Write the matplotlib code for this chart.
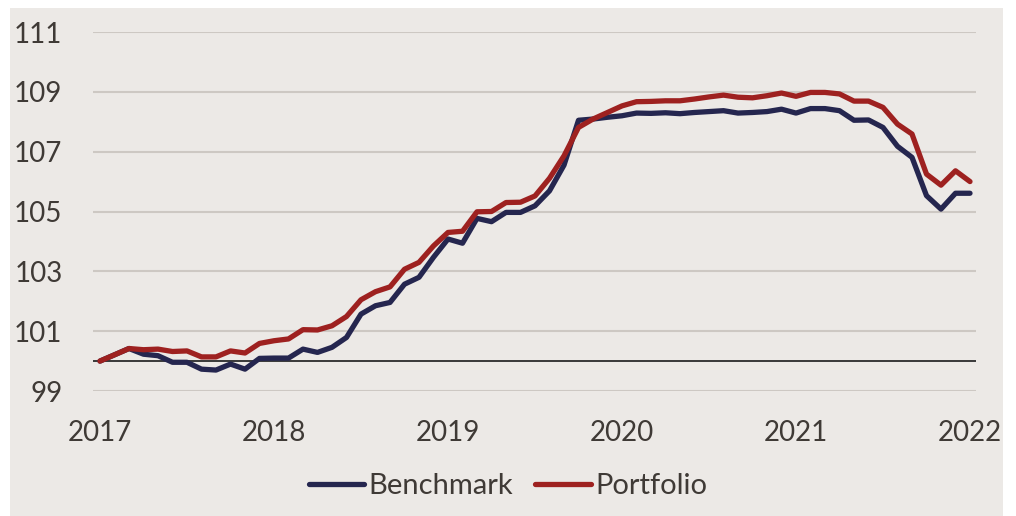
import matplotlib
matplotlib.use("Agg")
import matplotlib.pyplot as plt
from matplotlib.patches import Rectangle
import numpy as np

# ---- data (monthly, Jan 2017 .. Jan 2022) ----
year_labels = ["2017", "2018", "2019", "2020", "2021", "2022"]
y_ticks = [99, 101, 103, 105, 107, 109, 111]

benchmark = [100.00, 100.21, 100.42, 100.23, 100.18, 99.96, 99.96, 99.73, 99.70, 99.90,
             99.73, 100.09, 100.10, 100.10, 100.40, 100.29, 100.46, 100.79, 101.57, 101.85,
             101.96, 102.57, 102.80, 103.47, 104.08, 103.94, 104.77, 104.66, 104.97, 104.97,
             105.19, 105.69, 106.55, 108.05, 108.09, 108.15, 108.20, 108.29, 108.28, 108.30,
             108.27, 108.31, 108.34, 108.37, 108.29, 108.31, 108.34, 108.42, 108.29, 108.44,
             108.44, 108.37, 108.05, 108.06, 107.81, 107.18, 106.81, 105.53, 105.08, 105.61,
             105.61]
portfolio = [100.00, 100.21, 100.42, 100.38, 100.40, 100.32, 100.34, 100.14, 100.14, 100.34,
             100.27, 100.59, 100.68, 100.74, 101.05, 101.04, 101.18, 101.49, 102.05, 102.32,
             102.48, 103.07, 103.30, 103.85, 104.30, 104.34, 104.99, 105.00, 105.30, 105.31,
             105.52, 106.11, 106.86, 107.81, 108.09, 108.31, 108.53, 108.67, 108.68, 108.70,
             108.70, 108.76, 108.83, 108.89, 108.82, 108.80, 108.87, 108.96, 108.85, 108.98,
             108.98, 108.93, 108.69, 108.69, 108.48, 107.92, 107.59, 106.25, 105.88, 106.36,
             106.00]
series_names = ["Benchmark", "Portfolio"]

# ---- style ----
BG = "#ECE9E6"
GRID = "#CDC8C3"
TXT = "#3F3A36"
BLUE = "#25264F"
RED = "#9E2120"

plt.rcParams['font.family'] = ['Lato', 'DejaVu Sans']

W, H = 1016, 516
fig = plt.figure(figsize=(W / 100, H / 100), dpi=100, facecolor="white")
fig.patches.append(Rectangle((10 / W, 0), (1003 - 10) / W, (516 - 8) / H,
                             transform=fig.transFigure, facecolor=BG, edgecolor="none",
                             zorder=-10))

ax = fig.add_axes([93 / W, (H - 391) / H, (976 - 93) / W, (391 - 32) / H])
ax.set_zorder(1)
ax.set_facecolor("none")

x = np.arange(len(benchmark))
ax.plot(x, benchmark, color=BLUE, lw=3.8, solid_capstyle="round", solid_joinstyle="round",
        label=series_names[0], zorder=3)
ax.plot(x, portfolio, color=RED, lw=3.8, solid_capstyle="round", solid_joinstyle="round",
        label=series_names[1], zorder=4)

ax.axhline(100, color="#2B2B2B", lw=1.3, zorder=2)
for yt in y_ticks:
    ax.axhline(yt, color=GRID, lw=1.5, zorder=1)

ax.set_ylim(99, 111)
ax.set_xlim(-7 / 14.5, 60 + 6 / 14.5)
ax.set_yticks(y_ticks)
ax.set_yticklabels([str(v) for v in y_ticks])
ax.set_xticks(np.arange(0, len(benchmark), 12))
ax.set_xticklabels(year_labels)
ax.tick_params(axis="both", length=0, labelsize=20, labelcolor=TXT)
ax.tick_params(axis="y", pad=22)
ax.tick_params(axis="x", pad=21)
for s in ax.spines.values():
    s.set_visible(False)

leg = fig.legend(loc="center", bbox_to_anchor=(0.5, (H - 486) / H), ncol=2, frameon=False,
                 fontsize=21, handlelength=1.9, handletextpad=0.15, columnspacing=0.75,
                 labelcolor=TXT)
leg.set_zorder(2)

fig.savefig("out.png", dpi=100, facecolor="white")
